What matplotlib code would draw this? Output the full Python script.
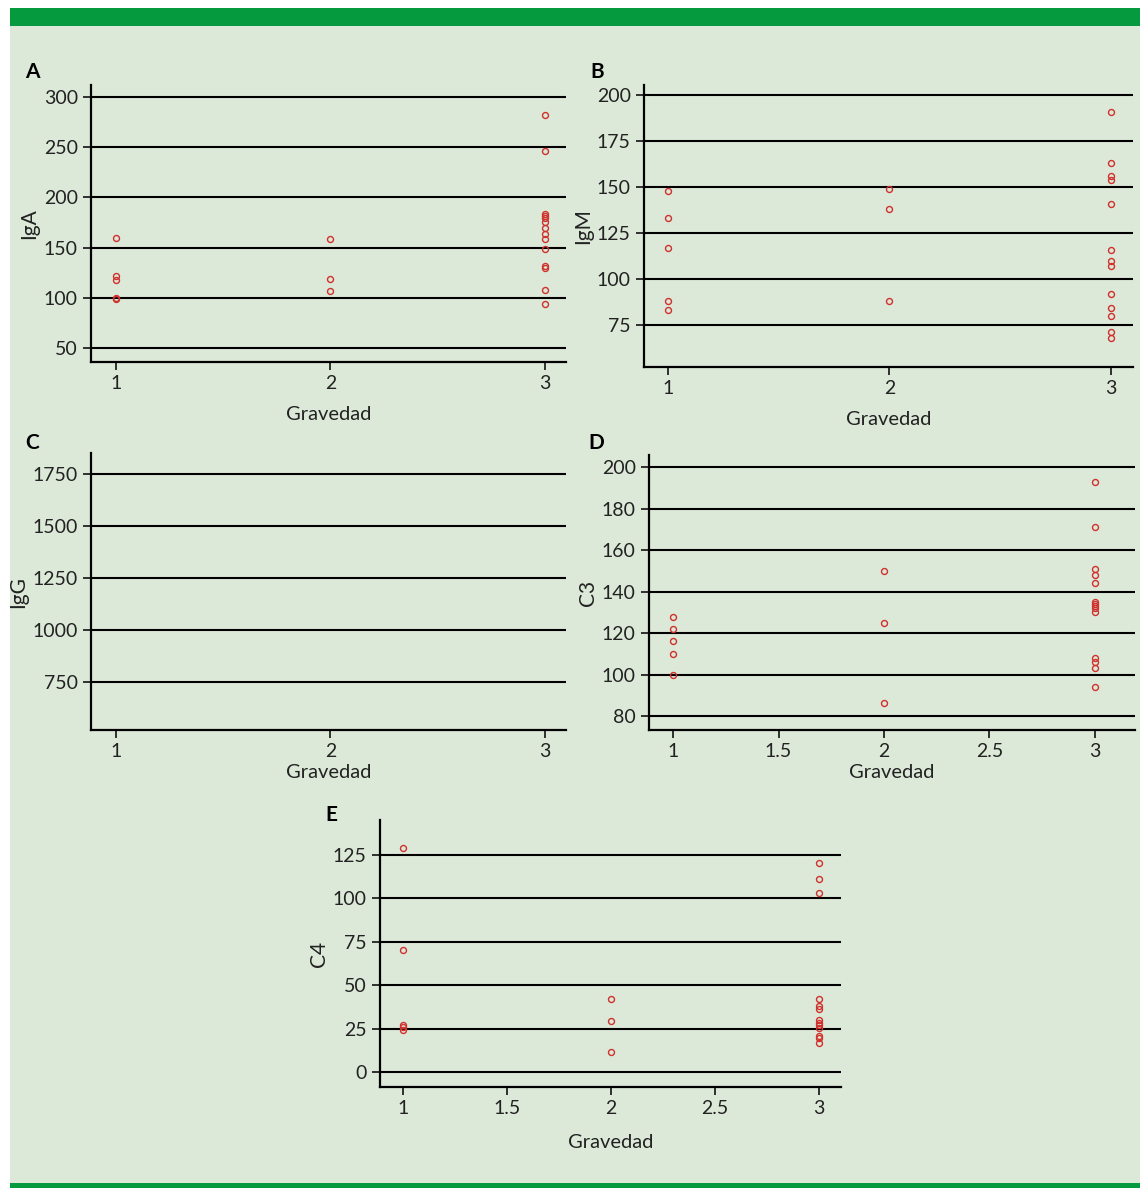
import matplotlib.pyplot as plt
from matplotlib.patches import Rectangle

plt.rcParams['font.family'] = ['Lato', 'DejaVu Sans']

W, H = 1140, 1188

# data (Gravedad = 1, 2, 3)
iga_1 = [160, 122, 118, 100, 99]
iga_2 = [159, 119, 107]
iga_3 = [282, 246, 183.5, 181.5, 179, 175, 170, 164, 158.6, 149, 131.6, 130, 108, 93.7]

igm_1 = [148, 133, 117, 88, 83]
igm_2 = [149, 138, 88]
igm_3 = [191, 163, 156, 154, 141, 116, 110, 107, 92, 84, 80, 71, 68]

igg_1, igg_2, igg_3 = [], [], []

c3_1 = [128, 122, 116, 110, 100]
c3_2 = [150, 125, 86]
c3_3 = [193, 171, 151, 148, 144, 135, 134, 133, 132, 130, 108, 106, 103, 94]

c4_1 = [129, 70, 27, 26, 24]
c4_2 = [42, 29.5, 11.5]
c4_3 = [120, 111, 103, 42, 38, 36.5, 30, 28.5, 27, 25.5, 21, 19.7, 16.7]

panels = [
    # letter, ylabel, groups, yticks, ylim, xticks, xlim, box(px: left, top, right, bottom), xlabel pad
    ('A', 'IgA', (iga_1, iga_2, iga_3), [50, 100, 150, 200, 250, 300], (36, 312),
     [1, 2, 3], (0.883, 3.10), (91, 85, 566, 362), 10),
    ('B', 'IgM', (igm_1, igm_2, igm_3), [75, 100, 125, 150, 175, 200], (52.2, 205.4),
     [1, 2, 3], (0.891, 3.10), (644, 85, 1133, 367), 10),
    ('C', 'IgG', (igg_1, igg_2, igg_3), [750, 1000, 1250, 1500, 1750], (519, 1851),
     [1, 2, 3], (0.883, 3.10), (91, 453, 566, 730), 3),
    ('D', 'C3', (c3_1, c3_2, c3_3), [80, 100, 120, 140, 160, 180, 200], (73.2, 206),
     [1, 1.5, 2, 2.5, 3], (0.886, 3.19), (649, 455, 1135, 730), 3),
    ('E', 'C4', (c4_1, c4_2, c4_3), [0, 25, 50, 75, 100, 125], (-8.6, 145),
     [1, 1.5, 2, 2.5, 3], (0.889, 3.106), (380, 820, 841, 1087), 12),
]

letter_pos = {'A': (25, 72), 'B': (590, 72), 'C': (25, 443), 'D': (588, 443), 'E': (325, 815)}

fig = plt.figure(figsize=(W / 100, H / 100), dpi=100)
fig.patch.set_facecolor('white')

# background panel and green rules
fig.patches.append(Rectangle((10 / W, 0), 1 - 10 / W, 1 - 8 / H, transform=fig.transFigure,
                             facecolor='#dde9d8', edgecolor='none', zorder=-3))
fig.patches.append(Rectangle((10 / W, 1 - 26 / H), 1 - 10 / W, 18 / H, transform=fig.transFigure,
                             facecolor='#069a3e', edgecolor='none', zorder=-2))
fig.patches.append(Rectangle((10 / W, 0), 1 - 10 / W, 5 / H, transform=fig.transFigure,
                             facecolor='#069a3e', edgecolor='none', zorder=-2))

red = '#d0312d'
for letter, ylab, groups, yticks, ylim, xticks, xlim, box, xpad in panels:
    l, t, r, b = box
    ax = fig.add_axes([l / W, 1 - b / H, (r - l) / W, (b - t) / H])
    ax.set_facecolor('none')
    for g, vals in zip([1, 2, 3], groups):
        ax.plot([g] * len(vals), vals, 'o', mfc='none', mec=red, mew=1.0, ms=4.3,
                linestyle='none', zorder=3)
    for v in yticks:
        ax.axhline(v, color='black', lw=1.5, zorder=2)
    ax.set_yticks(yticks)
    ax.set_xticks(xticks)
    ax.set_xticklabels([('%g' % x) for x in xticks])
    ax.set_ylim(*ylim)
    ax.set_xlim(*xlim)
    for s in ['top', 'right']:
        ax.spines[s].set_visible(False)
    for s in ['left', 'bottom']:
        ax.spines[s].set_linewidth(1.6)
        ax.spines[s].set_color('black')
    ax.tick_params(direction='out', length=6, width=1.3, labelsize=14, colors='#222222')
    ax.set_ylabel(ylab, fontsize=15, color='#222222', labelpad=3)
    ax.set_xlabel('Gravedad', fontsize=14.5, color='#222222', labelpad=xpad)
    lx, ly = letter_pos[letter]
    fig.text(lx / W, 1 - ly / H, letter, fontsize=15, fontweight='bold', ha='left', va='center')

fig.savefig('out.png', dpi=100, facecolor='white')
